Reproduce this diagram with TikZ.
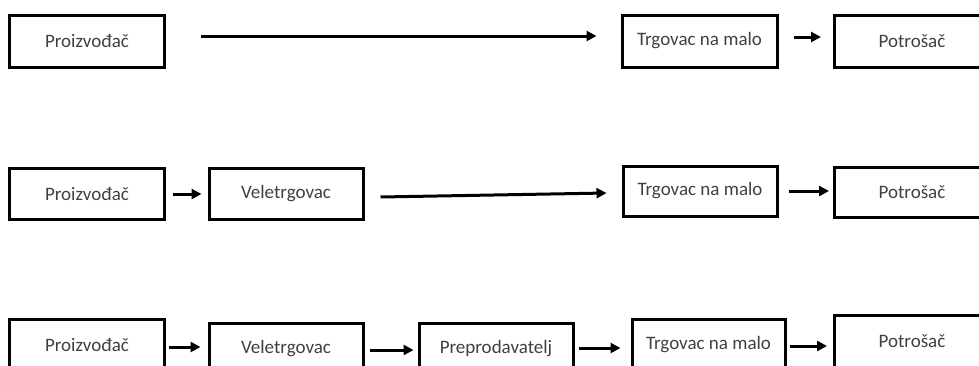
\documentclass[tikz,border=0pt]{standalone}
\usepackage{fontspec}
\setmainfont{Carlito}
\usetikzlibrary{arrows.meta,calc}
\definecolor{txt}{HTML}{404040}
\begin{document}
\begin{tikzpicture}[x=1pt,y=-1pt,
  box/.style={draw=black,line width=3pt,rectangle,minimum width=155pt,minimum height=52pt,inner sep=0pt,
    text=txt,font=\fontsize{19}{22}\selectfont},
  arr/.style={line width=3pt,-{Triangle[length=10pt,width=10pt]}}]
\useasboundingbox (0,0) rectangle (979,365);
\clip (0,0) rectangle (979,365);
% row 1
\node[box] (p1) at (87,41) {Proizvođač};
\node[box] (t1) at (699.5,41) {Trgovac na malo};
\node[box] (c1) at (912,41) {Potrošač};
\draw[arr] ($(p1.east)+(35,-5)$) -- ($(t1.west)+(-24,-5)$);
\draw[arr] ($(t1.east)+(15,-4)$) -- ($(c1.west)+(-12,-4)$);
% row 2
\node[box,minimum height=51pt] (p2) at (87,193.5) {Proizvođač};
\node[box,minimum width=154pt,minimum height=51pt] (v2) at (286,193.5) {Veletrgovac};
\node[box,minimum width=154pt,minimum height=50pt] (t2) at (700,191) {Trgovac na malo};
\node[box,minimum height=50pt] (c2) at (912,192) {Potrošač};
\draw[arr] ($(p2.east)+(7,0.5)$) -- ($(v2.west)+(-6,0.5)$);
\draw[arr] ($(v2.east)+(16,3.5)$) -- ($(t2.west)+(-15,2)$);
\draw[arr] ($(t2.east)+(10,0)$) -- ($(c2.west)+(-4,-1)$);
% row 3
\node[box] (p3) at (87,345) {Proizvođač};
\node[box,minimum width=154pt] (v3) at (286,349) {Veletrgovac};
\node[box,minimum width=154pt] (r3) at (496,349) {Preprodavatelj};
\node[box,minimum width=153pt] (t3) at (708.5,345) {Trgovac na malo};
\node[box] (c3) at (912,341) {Potrošač};
\draw[arr] ($(p3.east)+(3,2)$) -- ($(v3.west)+(-7,-2)$);
\draw[arr] ($(v3.east)+(5,1)$) -- ($(r3.west)+(-4,1)$);
\draw[arr] ($(r3.east)+(4,-1)$) -- ($(t3.west)+(-10,3)$);
\draw[arr] ($(t3.east)+(3,1)$) -- ($(c3.west)+(-6,5)$);
\end{tikzpicture}
\end{document}
